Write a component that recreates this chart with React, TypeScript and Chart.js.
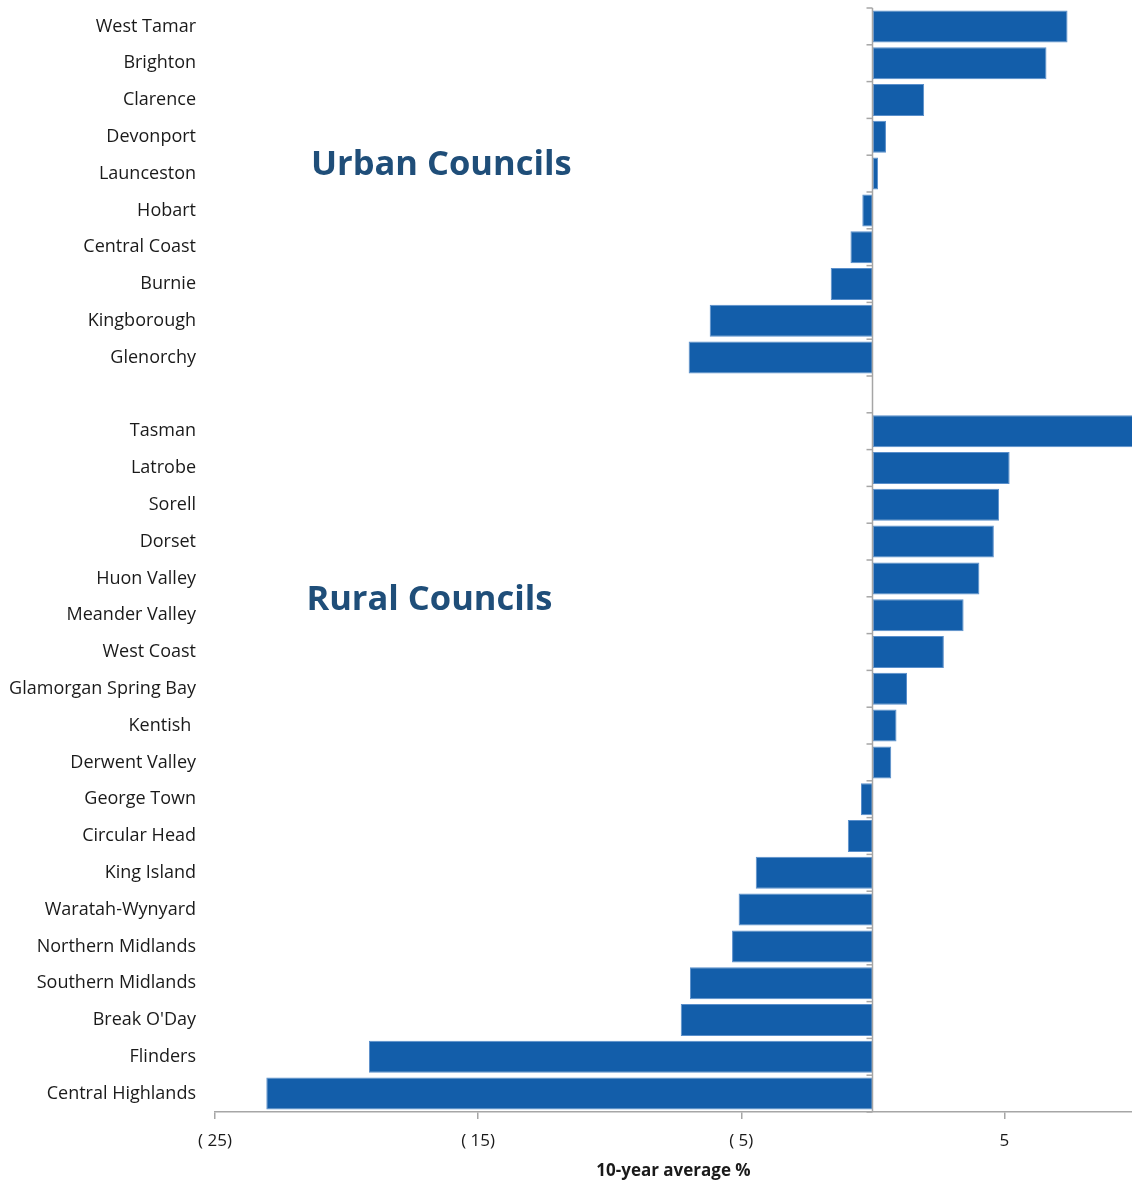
import React, { useEffect, useRef } from "react";
import { Chart, registerables } from "chart.js";

Chart.register(...registerables);

const categories: string[] = [
  "West Tamar", "Brighton", "Clarence", "Devonport", "Launceston", "Hobart",
  "Central Coast", "Burnie", "Kingborough", "Glenorchy",
  "",
  "Tasman", "Latrobe", "Sorell", "Dorset", "Huon Valley", "Meander Valley",
  "West Coast", "Glamorgan Spring Bay", "Kentish ", "Derwent Valley",
  "George Town", "Circular Head", "King Island", "Waratah-Wynyard",
  "Northern Midlands", "Southern Midlands", "Break O'Day", "Flinders",
  "Central Highlands",
];

const values: (number | null)[] = [
  7.4, 6.6, 1.95, 0.5, 0.2, -0.4, -0.85, -1.6, -6.2, -7.0,
  null,
  10.3, 5.2, 4.8, 4.6, 4.05, 3.45, 2.7, 1.3, 0.9, 0.7,
  -0.45, -0.95, -4.45, -5.1, -5.35, -6.95, -7.3, -19.15, -23.05,
];

const xTickValues: number[] = [-25, -15, -5, 5];
const xTickLabels: string[] = ["( 25)", "( 15)", "( 5)", "5"];

const annotations: { text: string; x: number; y: number }[] = [
  { text: "Urban Councils", x: -16.4, y: 3.78 },
  { text: "Rural Councils", x: -16.85, y: 15.58 },
];

const FONT = "'Open Sans', 'Noto Sans', sans-serif";

const zeroAxisPlugin = {
  id: "zeroAxis",
  afterDatasetsDraw(chart: any) {
    const { ctx, chartArea, scales } = chart;
    const x0 = Math.round(scales.x.getPixelForValue(0)) - 0.5;
    const n = categories.length;
    const h = chartArea.bottom - chartArea.top;
    ctx.save();
    ctx.strokeStyle = "#A6A6A6";
    ctx.lineWidth = 1.5;
    ctx.beginPath();
    ctx.moveTo(x0, chartArea.top);
    ctx.lineTo(x0, chartArea.bottom);
    ctx.stroke();
    for (let i = 0; i <= n; i++) {
      const y = chartArea.top + (i * h) / n;
      ctx.beginPath();
      ctx.moveTo(x0 - 6, y);
      ctx.lineTo(x0, y);
      ctx.stroke();
    }
    ctx.restore();
  },
};

const annotationPlugin = {
  id: "councilLabels",
  afterDraw(chart: any) {
    const { ctx, scales } = chart;
    ctx.save();
    ctx.font = `bold 34.5px ${FONT}`;
    ctx.fillStyle = "#1F4E79";
    ctx.textAlign = "center";
    ctx.textBaseline = "middle";
    for (const a of annotations) {
      ctx.fillText(a.text, scales.x.getPixelForValue(a.x), scales.y.getPixelForValue(a.y));
    }
    ctx.restore();
  },
};

export default function App() {
  const ref = useRef<HTMLCanvasElement | null>(null);

  useEffect(() => {
    if (!ref.current) return;
    const chart = new Chart(ref.current, {
      type: "bar",
      data: {
        labels: categories,
        datasets: [
          {
            data: values,
            backgroundColor: "#135EAA",
            borderColor: "#5A8FCB",
            borderWidth: 1,
            borderSkipped: false,
            barPercentage: 0.87,
            categoryPercentage: 1,
          },
        ],
      },
      options: {
        indexAxis: "y",
        animation: false,
        responsive: true,
        maintainAspectRatio: false,
        layout: { padding: { top: 8, left: 0, right: 0, bottom: 0 } },
        plugins: {
          legend: { display: false },
          tooltip: { enabled: false },
        },
        scales: {
          x: {
            type: "linear",
            min: -25,
            max: 9.85,
            afterBuildTicks: (scale: any) => {
              scale.ticks = xTickValues.map((v) => ({ value: v }));
            },
            afterFit: (scale: any) => {
              scale.height = 70;
              scale.paddingLeft = 0;
              scale.paddingRight = 0;
            },
            ticks: {
              autoSkip: false,
              maxRotation: 0,
              padding: 12,
              color: "#1a1a1a",
              font: { family: FONT, size: 17 },
              callback: (value: any) => {
                const i = xTickValues.indexOf(Number(value));
                return i >= 0 ? xTickLabels[i] : "";
              },
            },
            grid: {
              display: true,
              drawOnChartArea: false,
              drawTicks: true,
              tickLength: 7,
              color: "#A6A6A6",
              lineWidth: 1.5,
            },
            border: { display: true, color: "#A6A6A6", width: 1.5 },
            title: {
              display: true,
              text: "10-year average %",
              color: "#1a1a1a",
              font: { family: FONT, size: 17, weight: "bold" },
              padding: { top: 0, bottom: 1 },
            },
          },
          y: {
            type: "category",
            afterFit: (scale: any) => {
              scale.width = 215;
              scale.paddingTop = 0;
              scale.paddingBottom = 0;
            },
            ticks: {
              autoSkip: false,
              padding: 19,
              color: "#1a1a1a",
              font: { family: FONT, size: 18 },
            },
            grid: { display: false, drawTicks: false },
            border: { display: false },
          },
        },
      },
      plugins: [zeroAxisPlugin, annotationPlugin],
    });
    return () => chart.destroy();
  }, []);

  return (
    <div style={{ position: "absolute", left: 0, top: 0, width: 1132, height: 1182, background: "#fff" }}>
      <canvas ref={ref} />
    </div>
  );
}
